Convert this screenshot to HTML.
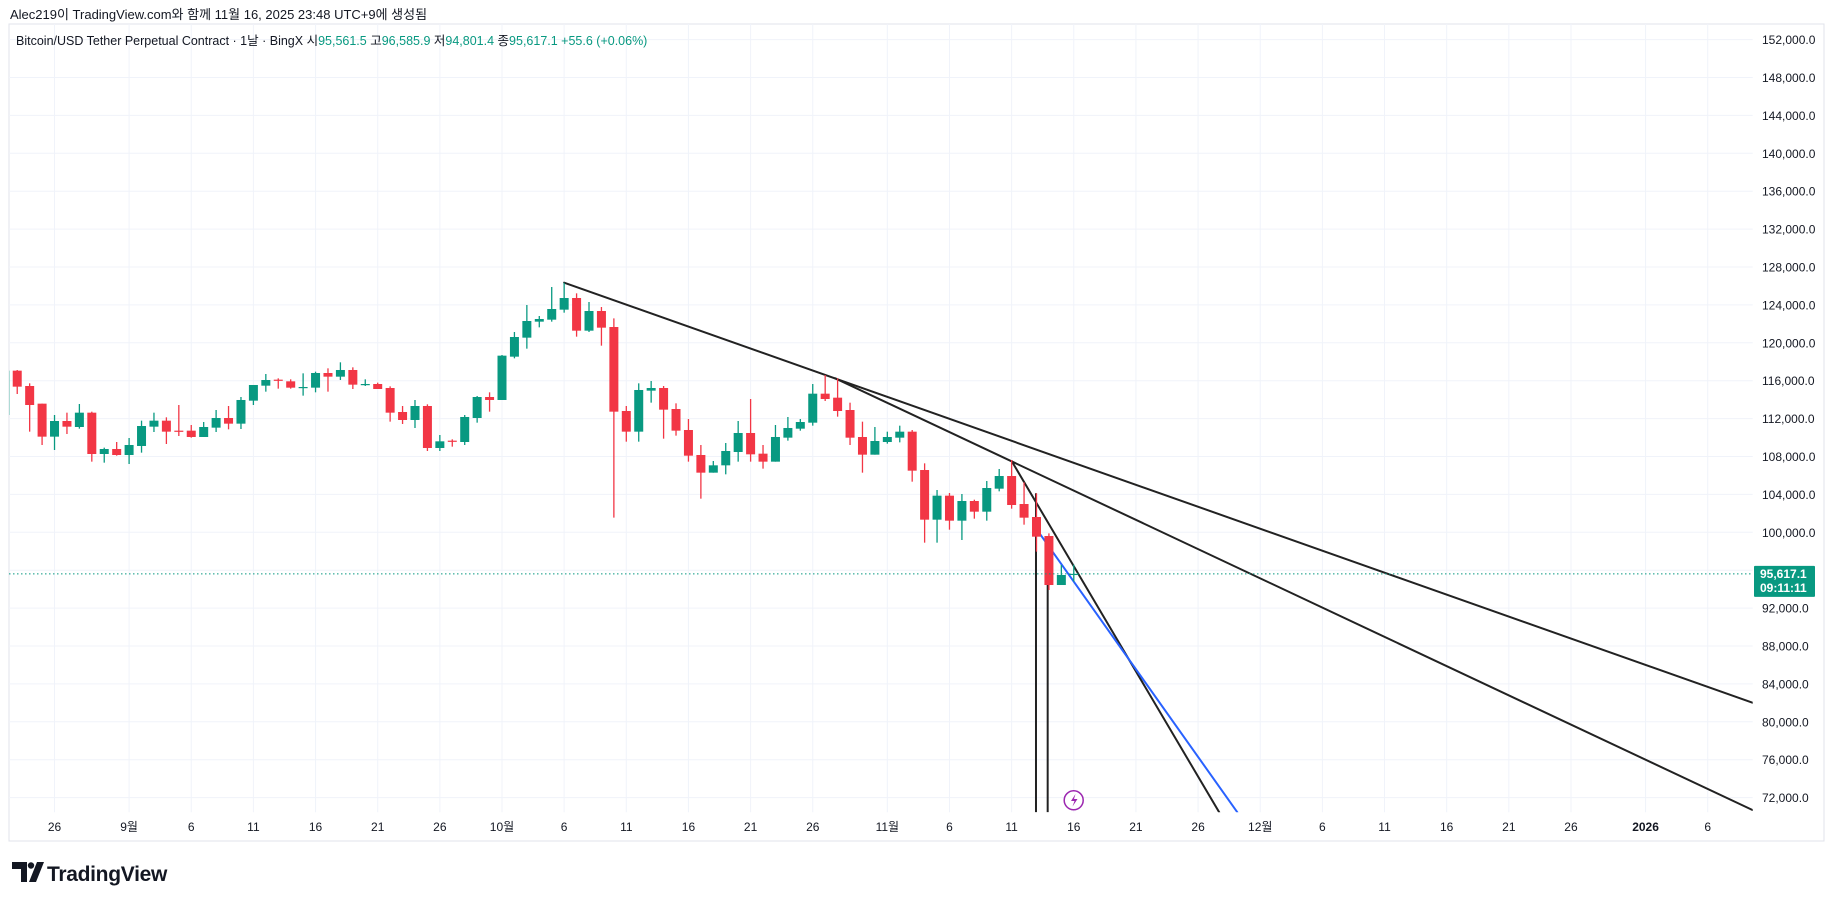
<!DOCTYPE html>
<html><head><meta charset="utf-8"><style>
html,body{margin:0;padding:0;background:#fff;width:1835px;height:901px;overflow:hidden}
svg{display:block;font-family:"Liberation Sans","Noto Sans CJK KR",sans-serif}
</style></head><body>
<svg id="chart" width="1835" height="901" xmlns="http://www.w3.org/2000/svg">
<rect x="0" y="0" width="1835" height="901" fill="#fff"/>
<text x="10" y="19" font-size="13" fill="#131722">Alec219이 TradingView.com와 함께 11월 16, 2025 23:48 UTC+9에 생성됨</text>
<rect x="9" y="24" width="1815" height="817" fill="none" stroke="#e0e3eb"/>
<g id="grid"></g>
<g id="lines"></g>
<g id="candles"></g>
<g id="overlay"></g>
<text x="16" y="45" font-size="12.5" fill="#131722">Bitcoin/USD Tether Perpetual Contract · 1날 · BingX  시<tspan fill="#089981">95,561.5</tspan>  고<tspan fill="#089981">96,585.9</tspan>  저<tspan fill="#089981">94,801.4</tspan>  종<tspan fill="#089981">95,617.1  +55.6 (+0.06%)</tspan></text>
<g>
<path d="M12 862 h15 v20 h-6 v-13 h-9 z" fill="#131722"/>
<circle cx="31" cy="865.5" r="3.2" fill="#131722"/>
<path d="M37 862 h7 l-8 20 h-7 z" fill="#131722"/>
<text x="47" y="881" font-size="21" font-weight="bold" fill="#131722" letter-spacing="-0.3">TradingView</text>
</g>
</svg>
<script>
const startDay = -40; // day offset from Oct 1 (Aug 22)
const opens  = [112380,117060,115441,113577,110094,111747,111114,112626,108264,108792,108159,109109,111149,111782,110727,110727,110059,111044,112064,111466,113893,115476,116110,115934,115265,115265,116813,116426,117130,115582,115652,115230,112697,111853,113330,108898,109672,109531,112064,114280,113964,118536,120542,122231,122441,123497,124728,121280,123356,121667,112802,110622,114949,115230,113013,110797,108159,106294,107068,108476,110481,108299,107455,109988,110937,111570,114631,114209,112907,110058,108193,109529,109987,110621,106574,101333,103866,101227,103303,102177,104605,105941,102986,101614,99608,94437,95561];
const highs  = [117060,117130,115723,113577,112380,112626,113542,112732,108933,109531,109953,111782,112626,112134,113436,111325,111642,112908,113330,114280,115547,116707,116250,116145,116778,116954,117306,117939,117411,116145,115793,115406,113330,113964,113506,110270,109812,112380,114386,114773,118713,121140,123989,122828,125889,126346,125220,124306,123778,122582,113330,115722,115968,115441,113611,111958,109214,107526,109425,111747,114069,109214,111325,112170,111957,115651,116601,116249,113681,111676,111113,110621,111254,110797,107278,104464,104148,104042,103443,105413,106680,107630,105273,104112,99890,96548,96585];
const lows   = [112380,114597,110622,109214,108687,110375,110938,107455,107350,108089,107209,108405,110586,109320,110164,109988,110059,110586,110868,110903,113436,114843,115160,115160,114421,114773,114843,116074,115124,115441,115124,111677,111431,111009,108581,108581,109038,109214,111571,112732,113964,118360,119381,121632,122231,123180,120647,121140,119697,101544,109566,109566,113682,109882,110200,107455,103550,106294,106118,107455,107455,106716,107455,109671,110726,111254,113857,112204,109213,106293,108193,109354,109494,105343,98906,98906,100277,99187,101438,101227,104323,102493,100805,97956,93910,94437,94801];
const closes = [117060,115371,113436,110094,111747,111149,112626,108264,108792,108159,109214,111219,111782,110622,110657,110059,111114,112064,111466,113964,115547,116074,116039,115265,115336,116813,116426,117130,115582,115652,115124,112626,111853,113330,108898,109601,109566,112170,114280,113964,118643,120612,122301,122512,123567,124728,121280,123356,121597,112732,110622,115019,115230,112943,110727,108088,106294,107068,108581,110481,108229,107455,110059,111009,111641,114631,114068,112802,109987,108193,109635,110058,110621,106504,101333,103866,101227,103303,102177,104675,105941,102881,101544,99538,94437,95493,95617];
const priceTicks = [152000,148000,144000,140000,136000,132000,128000,124000,120000,116000,112000,108000,104000,100000,96000,92000,88000,84000,80000,76000,72000];
const timeTickDays = [-36,-30,-25,-20,-15,-10,-5,0,5,10,15,20,25,31,36,41,46,51,56,61,66,71,76,81,86,92,97];
const timeTickLabels = ["26","9월","6","11","16","21","26","10월","6","11","16","21","26","11월","6","11","16","21","26","12월","6","11","16","21","26","2026","6"];
const trendLine1 = [[5,126346],[100.6,82016]];
const trendLine2 = [[26.8,116253],[100.6,70691]];
const trendLine3 = [[41,107525],[57.7,70449]];
const blueLine   = [[43.3,99789],[59.16,70449]];
const vertLine1 = [42.96,104116];
const vertLine2 = [43.9,94438];
const lastPrice = 95617.1;

const NS="http://www.w3.org/2000/svg";
const PL=9, PR=1752.7, PT=24, PB=812.3;
function x(d){return 502+12.43*d;}
function y(p){return 532.3-(p-100000)*0.009475;}
function mk(tag,attrs,parent){const e=document.createElementNS(NS,tag);for(const k in attrs)e.setAttribute(k,attrs[k]);parent.appendChild(e);return e;}
const grid=document.getElementById('grid'), lines=document.getElementById('lines'), cg=document.getElementById('candles'), ov=document.getElementById('overlay');

priceTicks.forEach(p=>{
  const gl=mk('line',{x1:PL,x2:PR,y1:y(p),y2:y(p),stroke:'#f0f3fa','stroke-width':1},grid);
  
  
  const t=mk('text',{x:1762,y:y(p)+4.5,'font-size':12,fill:'#131722'},grid);
  
  
  t.textContent=p.toLocaleString('en-US')+'.0';
});
timeTickDays.forEach((d,i)=>{
  const gl=mk('line',{x1:x(d),x2:x(d),y1:PT,y2:PB,stroke:'#f0f3fa','stroke-width':1},grid);
  
  
  const t=mk('text',{x:x(d),y:831,'font-size':12,fill:'#131722','text-anchor':'middle','font-weight':timeTickLabels[i]==='2026'?'bold':'normal'},grid);
  
  
  t.textContent=timeTickLabels[i];
});

const clip=mk('clipPath',{id:'plotclip'},document.getElementById('chart'));
mk('rect',{x:PL,y:PT,width:PR-PL,height:PB-PT},clip);
cg.setAttribute('clip-path','url(#plotclip)');
lines.setAttribute('clip-path','url(#plotclip)');

opens.forEach((o,i)=>{
  const d=startDay+i, c=closes[i], up=c>=o, col=up?'#089981':'#f23645';
  const g=mk('g',{},cg);
  
  
  mk('line',{x1:x(d),x2:x(d),y1:y(highs[i]),y2:y(lows[i]),stroke:col,'stroke-width':1.3},g);
  const top=y(Math.max(o,c)), bot=y(Math.min(o,c));
  mk('rect',{x:x(d)-4.5,y:top,width:9,height:Math.max(1.2,bot-top),fill:col},g);
});

const lp=mk('line',{x1:PL,x2:PR,y1:y(lastPrice),y2:y(lastPrice),stroke:'#089981','stroke-width':1,'stroke-dasharray':'1.5 2.5'},ov);



function seg(pts,col,name){
  const l=mk('line',{x1:x(pts[0][0]),y1:y(pts[0][1]),x2:x(pts[1][0]),y2:y(pts[1][1]),stroke:col,'stroke-width':2,'stroke-linecap':'round'},lines);
  
  
}
seg(trendLine1,'#222','trend-line-1');
seg(trendLine2,'#222','trend-line-2');
seg(trendLine3,'#222','trend-line-3');
seg(blueLine,'#2962ff','blue-trend-line');
const v1=mk('line',{x1:x(vertLine1[0]),x2:x(vertLine1[0]),y1:y(vertLine1[1]),y2:PB,stroke:'#222','stroke-width':2},lines);


const v2=mk('line',{x1:x(vertLine2[0]),x2:x(vertLine2[0]),y1:y(vertLine2[1]),y2:PB,stroke:'#222','stroke-width':2},lines);



const lb=mk('g',{},ov);


const ly=y(lastPrice);
mk('rect',{x:1754,y:ly-8,width:61,height:31,fill:'#089981',rx:1},lb);
const t1=mk('text',{x:1760,y:ly+4,'font-size':12,'font-weight':'bold',fill:'#fff'},lb);t1.textContent='95,617.1';
const t2=mk('text',{x:1760,y:ly+18,'font-size':12,'font-weight':'bold',fill:'#fff'},lb);t2.textContent='09:11:11';

const ev=mk('g',{},ov);


mk('circle',{cx:1073.7,cy:800.3,r:9.5,fill:'#fff',stroke:'#9c27b0','stroke-width':1.5},ev);
mk('path',{d:'M1075.5 794 l-4.5 7 h3.5 l-2 5.5 l5 -7.5 h-3.5 z',fill:'#9c27b0'},ev);
</script>
</body></html>
